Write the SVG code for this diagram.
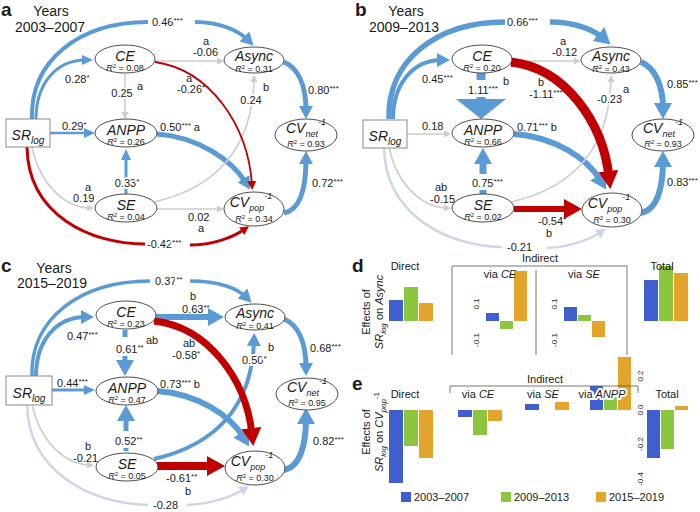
<svg xmlns="http://www.w3.org/2000/svg" width="700" height="512" viewBox="0 0 700 512">
<style>
text{font-family:"Liberation Sans",Arial,sans-serif;fill:#1a1a1a}
.lb{font-size:11px}
.s{font-size:8px;baseline-shift:3px}
.h{stroke:#fff;stroke-width:4px;paint-order:stroke;stroke-linejoin:round}
.nd{fill:#fff;stroke:#3a3a3a;stroke-width:0.9}
.bx{fill:#fff;stroke:#8a8a8a;stroke-width:1}
.nm{font-size:14px;font-style:italic;text-anchor:middle}
.r2{font-size:9px;text-anchor:middle}
.sb{font-size:9px}
.e{fill:none}
.bl{stroke:#5b9bd5}
.rd{stroke:#c00000}
.gy{stroke:#cdcdcd}
.lg{stroke:#cbd7e8}
.pl{font-size:19px;font-weight:bold}
.yr{font-size:14px;text-anchor:middle}
.mid{text-anchor:middle}
.ax{stroke:#555;stroke-width:0.8;fill:none}
.tk{font-size:8px;text-anchor:middle}
.c1{fill:#3f5fcf}.c2{fill:#8cc63e}.c3{fill:#e2a42a}
</style>
<defs>
<marker id="mG" markerUnits="userSpaceOnUse" markerWidth="7" markerHeight="7" refX="2" refY="3.5" orient="auto"><path d="M0,0 L7,3.5 L0,7 z" fill="#cdcdcd"/></marker>
<marker id="mLG" markerUnits="userSpaceOnUse" markerWidth="10" markerHeight="10" refX="4" refY="5" orient="auto"><path d="M0,0 L10,5 L0,10 z" fill="#cbd7e8"/></marker>
<marker id="mB1" markerUnits="userSpaceOnUse" markerWidth="11" markerHeight="10" refX="4" refY="5" orient="auto"><path d="M0,0 L11,5 L0,10 z" fill="#5b9bd5"/></marker>
<marker id="mB2" markerUnits="userSpaceOnUse" markerWidth="13" markerHeight="14" refX="5" refY="7" orient="auto"><path d="M0,0 L13,7 L0,14 z" fill="#5b9bd5"/></marker>
<marker id="mB3" markerUnits="userSpaceOnUse" markerWidth="16" markerHeight="18" refX="6" refY="9" orient="auto"><path d="M0,0 L16,9 L0,18 z" fill="#5b9bd5"/></marker>
<marker id="mBX" markerUnits="userSpaceOnUse" markerWidth="20" markerHeight="50" refX="4" refY="25" orient="auto"><path d="M0,0 L20,25 L0,50 z" fill="#5b9bd5"/></marker>
<marker id="mR1" markerUnits="userSpaceOnUse" markerWidth="9" markerHeight="9" refX="4" refY="4.5" orient="auto"><path d="M0,0 L9,4.5 L0,9 z" fill="#c00000"/></marker>
<marker id="mR2" markerUnits="userSpaceOnUse" markerWidth="18" markerHeight="20" refX="6" refY="10" orient="auto"><path d="M0,0 L18,10 L0,20 z" fill="#c00000"/></marker>
</defs>
<rect width="700" height="512" fill="#fff"/>

<!-- ================= PANEL A ================= -->
<g id="panel-a">
<text class="pl" x="1" y="16">a</text>
<text class="yr" x="51" y="16">Years</text>
<text class="yr" x="50" y="32">2003–2007</text>
<g id="a-connectors">
<path class="e bl" stroke-width="4" d="M32,119 C30,60 80,22 148,22"/>
<path class="e bl" stroke-width="4" d="M195,22 C222,22 240,32 248,40" marker-end="url(#mB2)"/>
<path class="e bl" stroke-width="3" d="M36,119 C36,85 55,60 86,60" marker-end="url(#mB1)"/>
<path class="e gy" stroke-width="1.6" d="M125,74 L125,114" marker-end="url(#mG)"/>
<path class="e bl" stroke-width="2.5" d="M50,133 L88,133" marker-end="url(#mB1)"/>
<path class="e bl" stroke-width="5" d="M157,134 C198,137 232,160 246,183" marker-end="url(#mB2)"/>
<path class="e bl" stroke-width="3" d="M126,194 L126,156" marker-end="url(#mB1)"/>
<path class="e gy" stroke-width="1.6" d="M32,147 C40,185 65,207 89,208" marker-end="url(#mG)"/>
<path class="e rd" stroke-width="3" d="M27,147 C28,215 90,244 145,244"/>
<path class="e rd" stroke-width="3" d="M190,245 C212,245 232,238 245,229" marker-end="url(#mR1)"/>
<path class="e gy" stroke-width="1.6" d="M157,209 L219,209" marker-end="url(#mG)"/>
<path class="e gy" stroke-width="1.6" d="M154,202 C215,188 252,150 254,80" marker-end="url(#mG)"/>
<path class="e gy" stroke-width="1.6" d="M155,61 L219,61" marker-end="url(#mG)"/>
<path class="e rd" stroke-width="1.8" d="M155,62 C210,70 248,125 252,185" marker-end="url(#mR1)"/>
<path class="e bl" stroke-width="5" d="M284,62 C298,68 306,85 306,111" marker-end="url(#mB2)"/>
<path class="e bl" stroke-width="5" d="M284,213 C300,210 306,188 306,159" marker-end="url(#mB2)"/>
<text class="lb h" x="152" y="26">0.46<tspan class="s">***</tspan></text>
<text class="lb" x="65" y="83">0.28<tspan class="s">*</tspan></text>
<text class="lb h mid" x="122" y="97">0.25</text>
<text class="lb" x="137" y="90">a</text>
<text class="lb" x="62" y="130">0.29<tspan class="s">*</tspan></text>
<text class="lb" x="160" y="131">0.50<tspan class="s">***</tspan> a</text>
<text class="lb h mid" x="127" y="187">0.33<tspan class="s">*</tspan></text>
<text class="lb" x="85" y="191">a</text>
<text class="lb" x="73" y="202">0.19</text>
<text class="lb h" x="147" y="248">-0.42<tspan class="s">***</tspan></text>
<text class="lb" x="188" y="221">0.02</text>
<text class="lb" x="198" y="232">a</text>
<text class="lb" x="263" y="91">b</text>
<text class="lb h mid" x="251" y="104">0.24</text>
<text class="lb" x="203" y="45">a</text>
<text class="lb" x="193" y="56">-0.06</text>
<text class="lb" x="186" y="82">a</text>
<text class="lb" x="177" y="93">-0.26<tspan class="s">*</tspan></text>
<text class="lb" x="308" y="94">0.80<tspan class="s">***</tspan></text>
<text class="lb" x="312" y="187">0.72<tspan class="s">***</tspan></text>
</g>
<g id="a-SR"><rect class="bx" x="6" y="119" width="44" height="28"/><text x="28" y="140" font-size="14" font-style="italic" text-anchor="middle">SR<tspan font-size="10" dy="4">log</tspan></text></g>
<g id="a-CE"><ellipse class="nd" cx="125" cy="59" rx="30" ry="14"/><text class="nm" x="125" y="61">CE</text><text class="r2" x="125" y="71"><tspan font-style="italic">R</tspan><tspan font-size="6" dy="-3">2</tspan><tspan dy="3"> = 0.08</tspan></text></g>
<g id="a-ANPP"><ellipse class="nd" cx="126" cy="133" rx="31" ry="14"/><text class="nm" x="126" y="135">ANPP</text><text class="r2" x="126" y="145"><tspan font-style="italic">R</tspan><tspan font-size="6" dy="-3">2</tspan><tspan dy="3"> = 0.26</tspan></text></g>
<g id="a-SE"><ellipse class="nd" cx="126" cy="208" rx="31" ry="14"/><text class="nm" x="126" y="210">SE</text><text class="r2" x="126" y="220"><tspan font-style="italic">R</tspan><tspan font-size="6" dy="-3">2</tspan><tspan dy="3"> = 0.04</tspan></text></g>
<g id="a-Async"><ellipse class="nd" cx="254" cy="60" rx="30" ry="13"/><text class="nm" x="254" y="61">Async</text><text class="r2" x="254" y="71.5"><tspan font-style="italic">R</tspan><tspan font-size="6" dy="-3">2</tspan><tspan dy="3"> = 0.31</tspan></text></g>
<g id="a-CVpop"><ellipse class="nd" cx="254" cy="209" rx="30" ry="17"/><text class="nm" x="251" y="207">CV<tspan class="sb" dy="4">pop</tspan><tspan class="sb" dy="-12">-1</tspan></text><text class="r2" x="254" y="222"><tspan font-style="italic">R</tspan><tspan font-size="6" dy="-3">2</tspan><tspan dy="3"> = 0.34</tspan></text></g>
<g id="a-CVnet"><ellipse class="nd" cx="306" cy="135" rx="31" ry="16"/><text class="nm" x="306" y="133">CV<tspan class="sb" dy="4">net</tspan><tspan class="sb" dy="-12">-1</tspan></text><text class="r2" x="306" y="147"><tspan font-style="italic">R</tspan><tspan font-size="6" dy="-3">2</tspan><tspan dy="3"> = 0.93</tspan></text></g>
</g>

<!-- ================= PANEL B ================= -->
<g id="panel-b" transform="translate(357,0)">
<text class="pl" x="-2" y="16">b</text>
<text class="yr" x="49" y="16">Years</text>
<text class="yr" x="47" y="32">2009–2013</text>
<g id="b-connectors">
<path class="e bl" stroke-width="5.5" d="M32,119 C30,60 80,22 148,22"/>
<path class="e bl" stroke-width="5.5" d="M193,22 C220,22 238,31 246,38" marker-end="url(#mB3)"/>
<path class="e bl" stroke-width="4" d="M36,119 C36,85 55,60 85,60" marker-end="url(#mB2)"/>
<path class="e bl" stroke-width="9" d="M124,73 L124,80"/>
<path class="e bl" stroke-width="9" d="M124,97 L124,103" marker-end="url(#mBX)"/>
<path class="e gy" stroke-width="1.6" d="M50,134 L89,134" marker-end="url(#mG)"/>
<path class="e bl" stroke-width="6" d="M157,134 C198,137 230,158 244,181" marker-end="url(#mB3)"/>
<path class="e bl" stroke-width="7" d="M126,194 L126,190"/>
<path class="e bl" stroke-width="7" d="M126,174 L126,158" marker-end="url(#mB3)"/>
<path class="e gy" stroke-width="1.6" d="M32,147 C40,185 65,207 89,208" marker-end="url(#mG)"/>
<path class="e lg" stroke-width="2.5" d="M27,147 C28,215 90,246 145,247"/>
<path class="e lg" stroke-width="2.5" d="M190,248 C212,247 232,240 244,232" marker-end="url(#mLG)"/>
<path class="e rd" stroke-width="6" d="M157,209 L213,209" marker-end="url(#mR2)"/>
<path class="e gy" stroke-width="1.6" d="M154,202 C215,188 252,150 254,80" marker-end="url(#mG)"/>
<path class="e gy" stroke-width="1.6" d="M155,61 L219,61" marker-end="url(#mG)"/>
<path class="e rd" stroke-width="9" d="M154,62 C208,68 246,122 252,177" marker-end="url(#mR2)"/>
<path class="e bl" stroke-width="6" d="M284,62 C298,68 306,85 306,109" marker-end="url(#mB3)"/>
<path class="e bl" stroke-width="6" d="M284,213 C300,210 306,188 306,161" marker-end="url(#mB3)"/>
<text class="lb h" x="150" y="26">0.66<tspan class="s">***</tspan></text>
<text class="lb" x="65" y="83">0.45<tspan class="s">***</tspan></text>
<text class="lb" x="111" y="94">1.11<tspan class="s">***</tspan></text>
<text class="lb" x="146" y="85">b</text>
<text class="lb" x="65" y="130">0.18</text>
<text class="lb" x="160" y="131">0.71<tspan class="s">***</tspan> b</text>
<text class="lb" x="115" y="187">0.75<tspan class="s">***</tspan></text>
<text class="lb" x="78" y="191">ab</text>
<text class="lb" x="73" y="203">-0.15</text>
<text class="lb h" x="150" y="251">-0.21</text>
<text class="lb" x="181" y="225">-0.54<tspan class="s">*</tspan></text>
<text class="lb" x="189" y="237">b</text>
<text class="lb" x="266" y="93">a</text>
<text class="lb h" x="240" y="103">-0.23</text>
<text class="lb" x="203" y="45">a</text>
<text class="lb" x="195" y="56">-0.12</text>
<text class="lb" x="181" y="86">b</text>
<text class="lb" x="172" y="98">-1.11<tspan class="s">***</tspan></text>
<text class="lb" x="310" y="88">0.85<tspan class="s">***</tspan></text>
<text class="lb" x="310" y="186">0.83<tspan class="s">***</tspan></text>
</g>
<g id="b-SR"><rect class="bx" x="6" y="120" width="44" height="28"/><text x="28" y="141" font-size="14" font-style="italic" text-anchor="middle">SR<tspan font-size="10" dy="4">log</tspan></text></g>
<g id="b-CE"><ellipse class="nd" cx="125" cy="59" rx="30" ry="14"/><text class="nm" x="125" y="61">CE</text><text class="r2" x="125" y="71"><tspan font-style="italic">R</tspan><tspan font-size="6" dy="-3">2</tspan><tspan dy="3"> = 0.20</tspan></text></g>
<g id="b-ANPP"><ellipse class="nd" cx="126" cy="133" rx="31" ry="14"/><text class="nm" x="126" y="135">ANPP</text><text class="r2" x="126" y="145"><tspan font-style="italic">R</tspan><tspan font-size="6" dy="-3">2</tspan><tspan dy="3"> = 0.66</tspan></text></g>
<g id="b-SE"><ellipse class="nd" cx="126" cy="208" rx="31" ry="14"/><text class="nm" x="126" y="210">SE</text><text class="r2" x="126" y="220"><tspan font-style="italic">R</tspan><tspan font-size="6" dy="-3">2</tspan><tspan dy="3"> = 0.02</tspan></text></g>
<g id="b-Async"><ellipse class="nd" cx="254" cy="60" rx="30" ry="13"/><text class="nm" x="254" y="61">Async</text><text class="r2" x="254" y="71.5"><tspan font-style="italic">R</tspan><tspan font-size="6" dy="-3">2</tspan><tspan dy="3"> = 0.43</tspan></text></g>
<g id="b-CVpop"><ellipse class="nd" cx="255" cy="210" rx="30" ry="17"/><text class="nm" x="252" y="208">CV<tspan class="sb" dy="4">pop</tspan><tspan class="sb" dy="-12">-1</tspan></text><text class="r2" x="255" y="223"><tspan font-style="italic">R</tspan><tspan font-size="6" dy="-3">2</tspan><tspan dy="3"> = 0.30</tspan></text></g>
<g id="b-CVnet"><ellipse class="nd" cx="306" cy="135" rx="31" ry="16"/><text class="nm" x="306" y="133">CV<tspan class="sb" dy="4">net</tspan><tspan class="sb" dy="-12">-1</tspan></text><text class="r2" x="306" y="147"><tspan font-style="italic">R</tspan><tspan font-size="6" dy="-3">2</tspan><tspan dy="3"> = 0.93</tspan></text></g>
</g>

<!-- ================= PANEL C ================= -->
<g id="panel-c" transform="translate(0,257)">
<text class="pl" x="1" y="15">c</text>
<text class="yr" x="54" y="16">Years</text>
<text class="yr" x="52" y="31">2015–2019</text>
<g id="c-connectors">
<path class="e bl" stroke-width="3.5" d="M32,119 C30,62 80,24 150,24"/>
<path class="e bl" stroke-width="3.5" d="M190,24 C220,24 238,32 246,40" marker-end="url(#mB2)"/>
<path class="e bl" stroke-width="4" d="M36,119 C36,85 55,60 86,60" marker-end="url(#mB2)"/>
<path class="e bl" stroke-width="5" d="M125,73 L125,80"/>
<path class="e bl" stroke-width="5" d="M125,99 L125,109" marker-end="url(#mB3)"/>
<path class="e bl" stroke-width="3" d="M50,133 L88,133" marker-end="url(#mB1)"/>
<path class="e bl" stroke-width="6" d="M157,134 C198,137 230,158 244,181" marker-end="url(#mB3)"/>
<path class="e bl" stroke-width="5" d="M126,194 L126,191"/>
<path class="e bl" stroke-width="5" d="M126,174 L126,158" marker-end="url(#mB3)"/>
<path class="e gy" stroke-width="1.6" d="M32,147 C40,185 65,207 89,208" marker-end="url(#mG)"/>
<path class="e lg" stroke-width="2.5" d="M27,147 C28,215 90,246 148,248"/>
<path class="e lg" stroke-width="2.5" d="M187,248 C210,247 232,240 244,232" marker-end="url(#mLG)"/>
<path class="e rd" stroke-width="8" d="M157,209 L213,209" marker-end="url(#mR2)"/>
<path class="e bl" stroke-width="4" d="M154,202 C215,188 252,150 254,84" marker-end="url(#mB2)"/>
<path class="e bl" stroke-width="6" d="M155,60 L214,60" marker-end="url(#mB3)"/>
<path class="e rd" stroke-width="7" d="M154,64 C208,70 246,122 252,177" marker-end="url(#mR2)"/>
<path class="e bl" stroke-width="5" d="M284,62 C298,68 306,85 306,111" marker-end="url(#mB2)"/>
<path class="e bl" stroke-width="6" d="M284,213 C300,210 306,188 306,161" marker-end="url(#mB3)"/>
<text class="lb h" x="155" y="28">0.37<tspan class="s">**</tspan></text>
<text class="lb" x="67" y="83">0.47<tspan class="s">***</tspan></text>
<text class="lb" x="116" y="96">0.61<tspan class="s">**</tspan></text>
<text class="lb" x="146" y="87">ab</text>
<text class="lb" x="57" y="130">0.44<tspan class="s">***</tspan></text>
<text class="lb" x="160" y="131">0.73<tspan class="s">***</tspan> b</text>
<text class="lb" x="115" y="188">0.52<tspan class="s">**</tspan></text>
<text class="lb" x="85" y="193">b</text>
<text class="lb" x="73" y="205">-0.21</text>
<text class="lb h" x="153" y="252">-0.28</text>
<text class="lb" x="166" y="225">-0.61<tspan class="s">**</tspan></text>
<text class="lb" x="185" y="238">b</text>
<text class="lb" x="268" y="94">b</text>
<text class="lb h" x="242" y="107">0.50<tspan class="s">*</tspan></text>
<text class="lb" x="190" y="43">b</text>
<text class="lb" x="182" y="56">0.63<tspan class="s">**</tspan></text>
<text class="lb" x="183" y="90">ab</text>
<text class="lb" x="172" y="102">-0.58<tspan class="s">*</tspan></text>
<text class="lb" x="310" y="95">0.68<tspan class="s">***</tspan></text>
<text class="lb" x="313" y="188">0.82<tspan class="s">***</tspan></text>
</g>
<g id="c-SR"><rect class="bx" x="6" y="119" width="46" height="29"/><text x="29" y="141" font-size="14" font-style="italic" text-anchor="middle">SR<tspan font-size="10" dy="4">log</tspan></text></g>
<g id="c-CE"><ellipse class="nd" cx="126" cy="58" rx="30" ry="14"/><text class="nm" x="126" y="60">CE</text><text class="r2" x="126" y="70"><tspan font-style="italic">R</tspan><tspan font-size="6" dy="-3">2</tspan><tspan dy="3"> = 0.23</tspan></text></g>
<g id="c-ANPP"><ellipse class="nd" cx="127" cy="134" rx="31" ry="14"/><text class="nm" x="127" y="136">ANPP</text><text class="r2" x="127" y="146"><tspan font-style="italic">R</tspan><tspan font-size="6" dy="-3">2</tspan><tspan dy="3"> = 0.47</tspan></text></g>
<g id="c-SE"><ellipse class="nd" cx="127" cy="210" rx="31" ry="14"/><text class="nm" x="127" y="212">SE</text><text class="r2" x="127" y="222"><tspan font-style="italic">R</tspan><tspan font-size="6" dy="-3">2</tspan><tspan dy="3"> = 0.05</tspan></text></g>
<g id="c-Async"><ellipse class="nd" cx="255" cy="60" rx="30" ry="13"/><text class="nm" x="255" y="61">Async</text><text class="r2" x="255" y="71.5"><tspan font-style="italic">R</tspan><tspan font-size="6" dy="-3">2</tspan><tspan dy="3"> = 0.41</tspan></text></g>
<g id="c-CVpop"><ellipse class="nd" cx="255" cy="211" rx="30" ry="17"/><text class="nm" x="252" y="209">CV<tspan class="sb" dy="4">pop</tspan><tspan class="sb" dy="-12">-1</tspan></text><text class="r2" x="255" y="224"><tspan font-style="italic">R</tspan><tspan font-size="6" dy="-3">2</tspan><tspan dy="3"> = 0.30</tspan></text></g>
<g id="c-CVnet"><ellipse class="nd" cx="307" cy="137" rx="31" ry="16"/><text class="nm" x="307" y="135">CV<tspan class="sb" dy="4">net</tspan><tspan class="sb" dy="-12">-1</tspan></text><text class="r2" x="307" y="149"><tspan font-style="italic">R</tspan><tspan font-size="6" dy="-3">2</tspan><tspan dy="3"> = 0.95</tspan></text></g>
</g>

<!-- ================= PANEL D ================= -->
<g id="panel-d">
<text class="pl" x="352" y="272">d</text>
<text class="lb mid" transform="translate(370,312) rotate(-90)">Effects of</text>
<text class="lb mid" transform="translate(383,312) rotate(-90)"><tspan font-style="italic">SR</tspan><tspan font-size="8" font-style="italic" dy="3">log</tspan><tspan dy="-3"> on </tspan><tspan font-style="italic">Async</tspan></text>
<rect class="c1" x="389" y="300" width="14" height="21"/>
<rect class="c2" x="404" y="287" width="14" height="34"/>
<rect class="c3" x="419" y="303" width="14" height="18"/>
<rect class="c1" x="486" y="313" width="13" height="8"/>
<rect class="c2" x="500" y="321" width="13" height="8"/>
<rect class="c3" x="514" y="271" width="13" height="50"/>
<rect class="c1" x="564" y="307" width="13" height="14"/>
<rect class="c2" x="578" y="315" width="13" height="6"/>
<rect class="c3" x="592" y="321" width="13" height="16"/>
<rect class="c1" x="644" y="280" width="14" height="41"/>
<rect class="c2" x="659" y="266" width="14" height="55"/>
<rect class="c3" x="674" y="273" width="14" height="48"/>
<text class="lb mid" x="405" y="270">Direct</text>
<text class="lb mid" x="540" y="262">Indirect</text>
<path class="ax" d="M452,355 L452,266 L627,266 L627,355 M536,270 L536,355"/>
<text class="lb mid" x="500" y="278">via <tspan font-style="italic">CE</tspan></text>
<text class="lb mid" x="584" y="278">via <tspan font-style="italic">SE</tspan></text>
<text class="lb mid" x="662" y="270">Total</text>
<text class="tk" transform="translate(479,304) rotate(-90)">0.1</text>
<text class="tk" transform="translate(479,340) rotate(-90)">-0.1</text>
<text class="tk" transform="translate(557,304) rotate(-90)">0.1</text>
<text class="tk" transform="translate(557,340) rotate(-90)">-0.1</text>
</g>

<!-- ================= PANEL E ================= -->
<g id="panel-e">
<text class="pl" x="352" y="390">e</text>
<text class="lb mid" transform="translate(370,432) rotate(-90)">Effects of</text>
<text class="lb mid" transform="translate(383,432) rotate(-90)"><tspan font-style="italic">SR</tspan><tspan font-size="8" font-style="italic" dy="3">log</tspan><tspan dy="-3"> on </tspan><tspan font-style="italic">CV</tspan><tspan font-size="8" font-style="italic" dy="3">pop</tspan><tspan font-size="8" dy="-7">-1</tspan></text>
<rect class="c1" x="389" y="410" width="14" height="73"/>
<rect class="c2" x="404" y="410" width="14" height="36"/>
<rect class="c3" x="419" y="410" width="14" height="48"/>
<rect class="c1" x="458" y="410" width="14" height="7"/>
<rect class="c2" x="473" y="410" width="14" height="25"/>
<rect class="c3" x="488" y="410" width="14" height="11"/>
<rect class="c1" x="525" y="404" width="14" height="6"/>
<rect class="c3" x="555" y="402" width="14" height="8"/>
<rect class="c1" x="590" y="386" width="13" height="24"/>
<rect class="c2" x="604" y="389" width="13" height="21"/>
<rect class="c3" x="618" y="357" width="13" height="53"/>
<rect class="c1" x="647" y="410" width="13" height="48"/>
<rect class="c2" x="661" y="410" width="13" height="39"/>
<rect class="c3" x="675" y="406" width="13" height="4"/>
<text class="lb mid" x="545" y="383">Indirect</text>
<path class="ax" d="M450,393 L450,386 L638,386 L638,393"/>
<text class="lb mid" x="405" y="398">Direct</text>
<text class="lb mid" x="478" y="398">via <tspan font-style="italic">CE</tspan></text>
<text class="lb mid" x="543" y="398">via <tspan font-style="italic">SE</tspan></text>
<text class="lb mid h" x="602" y="398">via <tspan font-style="italic">ANPP</tspan></text>
<text class="lb mid" x="667" y="398">Total</text>
<text class="tk" transform="translate(643,376) rotate(-90)">0.2</text>
<text class="tk" transform="translate(643,410) rotate(-90)">0.0</text>
<text class="tk" transform="translate(643,444) rotate(-90)">-0.2</text>
<text class="tk" transform="translate(643,479) rotate(-90)">-0.4</text>
<g id="legend">
<rect class="c1" x="401" y="492" width="10" height="10"/><text class="lb" x="414" y="501">2003–2007</text>
<rect class="c2" x="501" y="492" width="10" height="10"/><text class="lb" x="514" y="501">2009–2013</text>
<rect class="c3" x="596" y="492" width="10" height="10"/><text class="lb" x="609" y="501">2015–2019</text>
</g>
</g>
</svg>
